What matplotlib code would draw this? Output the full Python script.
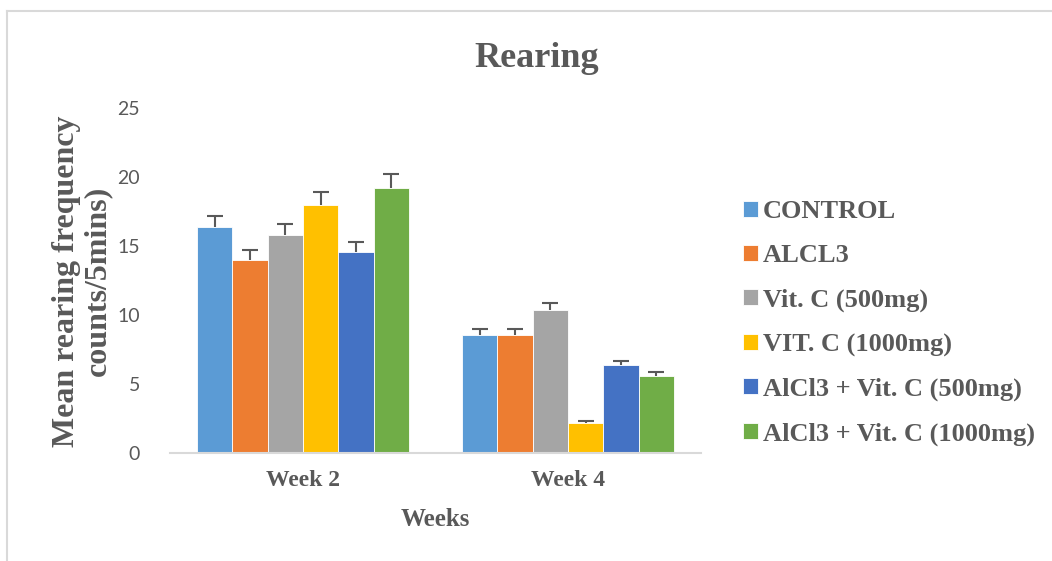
import matplotlib.pyplot as plt
import numpy as np
from matplotlib.lines import Line2D

weeks = ['Week 2', 'Week 4']
groups = ['CONTROL', 'ALCL3', 'Vit. C (500mg)', 'VIT. C (1000mg)',
          'AlCl3 + Vit. C (500mg)', 'AlCl3 + Vit. C (1000mg)']
colors = ['#5B9BD5', '#ED7D31', '#A5A5A5', '#FFC000', '#4472C4', '#70AD47']

# mean rearing counts per group, [week 2, week 4]
control = [16.4, 8.55]
alcl3 = [14.0, 8.55]
vitc500 = [15.8, 10.35]
vitc1000 = [18.0, 2.15]
alcl3_vitc500 = [14.6, 6.35]
alcl3_vitc1000 = [19.2, 5.55]

# standard errors
control_err = [0.8, 0.45]
alcl3_err = [0.7, 0.45]
vitc500_err = [0.8, 0.55]
vitc1000_err = [0.9, 0.15]
alcl3_vitc500_err = [0.7, 0.35]
alcl3_vitc1000_err = [1.0, 0.35]

means = [control, alcl3, vitc500, vitc1000, alcl3_vitc500, alcl3_vitc1000]
errs = [control_err, alcl3_err, vitc500_err, vitc1000_err,
        alcl3_vitc500_err, alcl3_vitc1000_err]

txt = '#595959'
fig = plt.figure(figsize=(10.52, 5.61), dpi=100)
ax = fig.add_axes([170.5 / 1052, 1 - 453 / 561, 530 / 1052, 345 / 561])

x = np.arange(len(weeks))
w = 0.8 / len(groups)
for i, (m, e) in enumerate(zip(means, errs)):
    pos = x - 0.4 + w * (i + 0.5)
    ax.bar(pos, m, w, color=colors[i], edgecolor='white', linewidth=0.6,
           label=groups[i])
    eb = ax.errorbar(pos, m, yerr=[np.zeros(len(e)), e], fmt='none',
                     ecolor='#595959', elinewidth=1.5, capsize=6, capthick=1.5)
    # only the upper cap is shown
    for cl in eb[1]:
        if np.allclose(cl.get_ydata(), m):
            cl.set_visible(False)

ax.set_xlim(-0.5, 1.5)
ax.set_ylim(0, 25)
ax.set_yticks([0, 5, 10, 15, 20, 25])
ax.set_xticks(x)
ax.set_xticklabels(weeks, fontfamily='Liberation Serif', fontweight='bold',
                   fontsize=17, color=txt)
for lab in ax.get_yticklabels():
    lab.set_fontfamily('Lato')
    lab.set_fontsize(14)
    lab.set_color(txt)
ax.tick_params(axis='y', length=0, pad=22)
ax.tick_params(axis='x', length=0, pad=12)
for s in ['left', 'right', 'top']:
    ax.spines[s].set_visible(False)
ax.spines['bottom'].set_color('#d9d9d9')
ax.spines['bottom'].set_linewidth(1.5)

fig.text(537 / 1052, 1 - 67 / 561, 'Rearing', ha='center', va='baseline',
         fontfamily='Liberation Serif', fontweight='bold', fontsize=26,
         color=txt)
fig.text(435 / 1052, 1 - 520 / 561, 'Weeks', ha='center', va='center',
         fontfamily='Liberation Serif', fontweight='bold', fontsize=18,
         color=txt)
fig.text(82 / 1052, 1 - 281 / 561,
         'Mean rearing frequency\ncounts/5mins)', rotation=90,
         ha='center', va='center', multialignment='center', linespacing=1.1,
         fontfamily='Liberation Serif', fontweight='bold', fontsize=23,
         color=txt)

leg = fig.legend(loc='center left', bbox_to_anchor=(743 / 1052, 1 - 323 / 561),
                 frameon=False, borderpad=0, borderaxespad=0,
                 handlelength=0.55, handleheight=0.55, handletextpad=0.2,
                 labelspacing=0.8,
                 prop={'family': 'Liberation Serif', 'weight': 'bold',
                       'size': 19})
for t in leg.get_texts():
    t.set_color(txt)

# outer chart frame (top and left edges visible)
fig.add_artist(Line2D([7 / 1052, 1], [1 - 11 / 561, 1 - 11 / 561],
                      transform=fig.transFigure, color='#d9d9d9', lw=1.5))
fig.add_artist(Line2D([7 / 1052, 7 / 1052], [0, 1 - 11 / 561],
                      transform=fig.transFigure, color='#d9d9d9', lw=1.5))

fig.savefig('out.png', dpi=100)
